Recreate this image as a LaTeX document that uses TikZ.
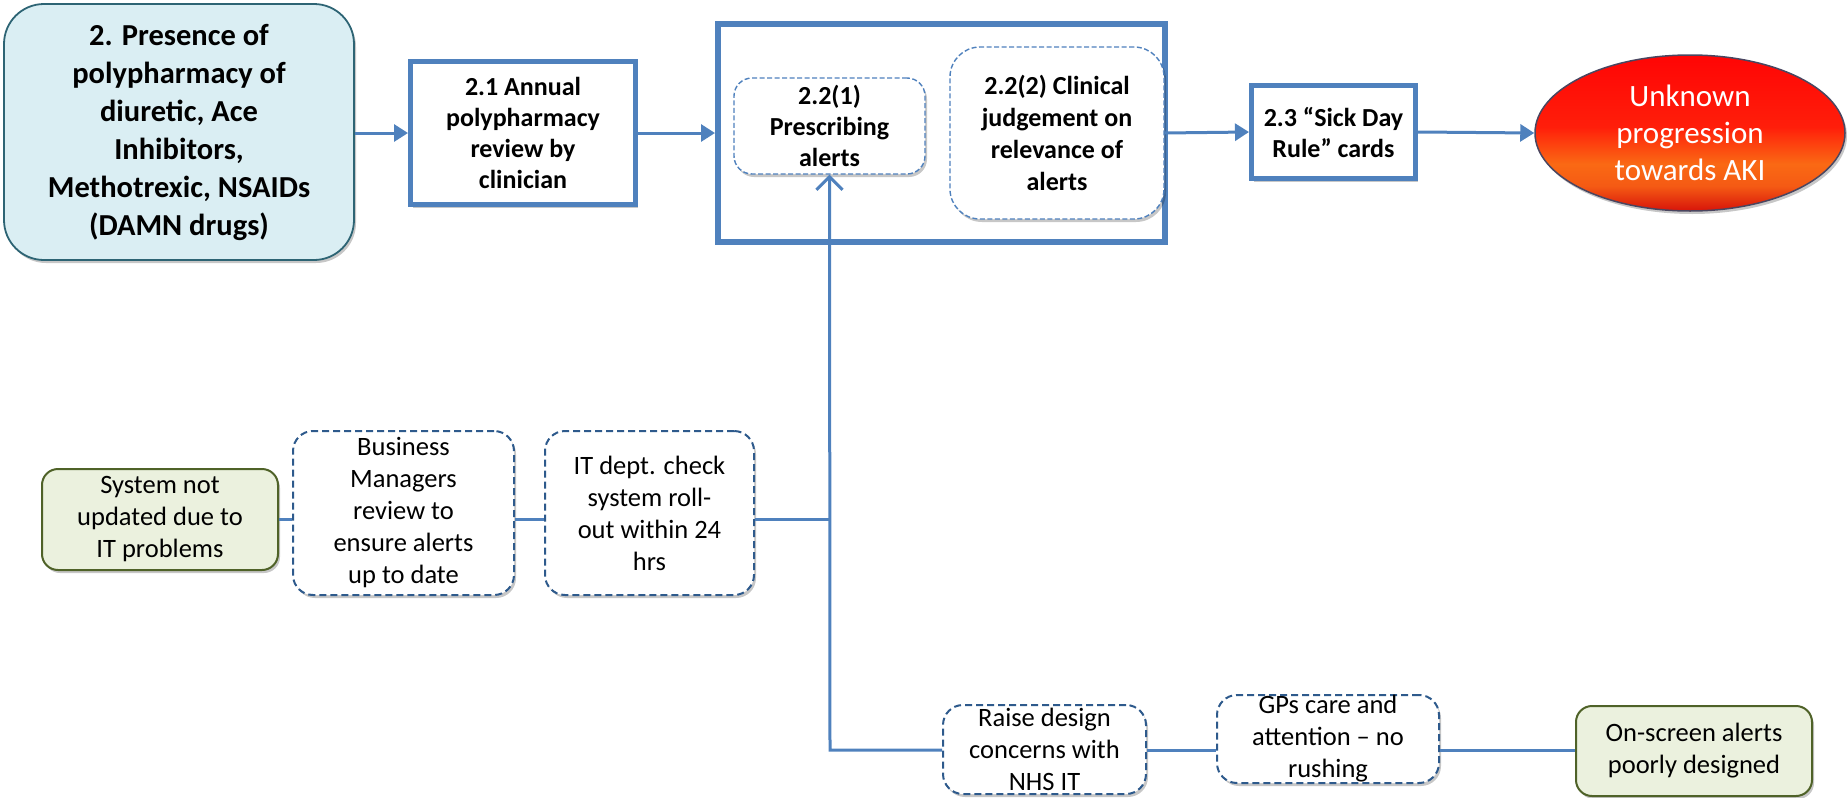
\documentclass[tikz,border=0pt]{standalone}
\usepackage{fontspec}
\setmainfont{Carlito}
\usetikzlibrary{arrows.meta,shadows,shapes.geometric}
\definecolor{accent}{HTML}{4F81BD}
\definecolor{navy}{HTML}{2E5A8C}
\definecolor{paleblue}{HTML}{DAEEF3}
\definecolor{tealedge}{HTML}{2D6474}
\definecolor{palegreen}{HTML}{EBF1DE}
\definecolor{olive}{HTML}{4F6228}
\definecolor{ovaledge}{HTML}{4A4660}
% red body with an orange band low down
\pgfdeclareverticalshading{akishade}{100bp}{%
  color(0bp)=(rgb,255:red,200;green,10;blue,10);
  color(25bp)=(rgb,255:red,215;green,20;blue,10);
  color(33bp)=(rgb,255:red,245;green,90;blue,20);
  color(40bp)=(rgb,255:red,250;green,105;blue,20);
  color(52bp)=(rgb,255:red,255;green,30;blue,10);
  color(75bp)=(rgb,255:red,255;green,5;blue,5);
  color(100bp)=(rgb,255:red,255;green,5;blue,5)}
\begin{document}
\begin{tikzpicture}[x=1pt,y=-1pt,
  softshadow/.style={drop shadow={shadow xshift=2pt,shadow yshift=-3pt,opacity=.22,fill=black}},
  boldtext/.style={font=\fontsize{26}{31}\selectfont\bfseries, align=center, text=black},
  plaintext/.style={font=\fontsize{26.5}{32}\selectfont, align=center, text=black},
  stepbox/.style={draw=accent, line width=5pt, fill=white, softshadow, boldtext, inner sep=0pt},
  innerdash/.style={draw=accent, line width=1.4pt, dash pattern=on 5pt off 2.5pt, fill=white, boldtext, inner sep=0pt, softshadow},
  lowdash/.style={draw=navy, line width=2pt, dash pattern=on 7pt off 4pt, fill=white, plaintext, rounded corners=20pt, inner sep=0pt, softshadow},
  greenbox/.style={draw=olive, line width=2pt, fill=palegreen, plaintext, rounded corners=16pt, inner sep=0pt, softshadow},
  flow/.style={draw=accent, line width=3pt, -{Triangle[length=14pt,width=17pt]}},
  link/.style={draw=accent, line width=3pt}
]
\useasboundingbox (0,0) rectangle (1848,798);

% main chain
\node[draw=tealedge, line width=1.8pt, fill=paleblue, rounded corners=40pt, softshadow,
      minimum width=350pt, minimum height=256pt, inner sep=0pt,
      font=\fontsize{30.5}{38}\selectfont\bfseries, align=center]
  (cause) at (179,132) {2. Presence of\\polypharmacy of\\diuretic, Ace\\Inhibitors,\\Methotrexic, NSAIDs\\(DAMN drugs)};

\node[stepbox, minimum width=225pt, minimum height=143pt] (review) at (523,133)
  {2.1 Annual\\polypharmacy\\review by\\clinician};

\node[draw=accent, line width=6pt, fill=white, softshadow,
      minimum width=447pt, minimum height=218pt, inner sep=0pt] (alertsgroup) at (941.5,133) {};

\node[innerdash, rounded corners=18pt, minimum width=191pt, minimum height=96pt] (prescribing) at (829.5,126)
  {2.2(1)\\Prescribing\\alerts};

\node[innerdash, rounded corners=30pt, minimum width=214pt, minimum height=172pt,
      font=\fontsize{26}{32}\selectfont\bfseries] (judgement) at (1057,133)
  {2.2(2) Clinical\\judgement on\\relevance of\\alerts};

\node[stepbox, minimum width=164pt, minimum height=93pt] (sickday) at (1333.5,132)
  {2.3 “Sick Day\\Rule” cards};

\node[ellipse, draw=ovaledge, line width=1.5pt, shading=akishade,
      minimum width=310pt, minimum height=156pt, inner sep=0pt, softshadow,
      font=\fontsize{31}{37}\selectfont, text=white, align=center] (outcome) at (1690,133)
  {Unknown\\progression\\towards AKI};

\draw[flow] (cause.east |- review.west) -- (review.west);
\draw[flow] (review.east) -- (alertsgroup.west);
\draw[flow] (judgement.east) -- (sickday.west);
\draw[flow] (sickday.east) -- (outcome.west);

% lower left branch
\node[greenbox, minimum width=236pt, minimum height=101pt] (sysnot) at (160,519.5)
  {System not\\updated due to\\IT problems};
\node[lowdash, minimum width=221pt, minimum height=164pt] (business) at (403.5,513)
  {Business\\Managers\\review to\\ensure alerts\\up to date};
\node[lowdash, minimum width=209pt, minimum height=164pt] (itdept) at (649.5,513)
  {IT dept. check\\system roll-\\out within 24\\hrs};

% lower right branch
\node[lowdash, minimum width=203pt, minimum height=89pt] (raise) at (1044.5,749.5)
  {Raise design\\concerns with\\NHS IT};
\node[lowdash, minimum width=222pt, minimum height=88pt] (gpscare) at (1328,739)
  {GPs care and\\attention – no\\rushing};
\node[greenbox, minimum width=236pt, minimum height=90pt] (onscreen) at (1694,751)
  {On-screen alerts\\poorly designed};

\coordinate (upper) at (830,519);
\coordinate (lower) at (830,750);

\draw[link] (sysnot.east |- upper) -- (business.west |- upper);
\draw[link] (business.east |- upper) -- (itdept.west |- upper);
\draw[link] (itdept.east |- upper) -- (upper);
\draw[link, -{Straight Barb[length=13pt,width=26pt,line width=3pt]}]
  (raise.west |- lower) -- (lower) -- (prescribing.south);
\draw[link] (raise.east |- lower) -- (gpscare.west |- lower);
\draw[link] (gpscare.east |- lower) -- (onscreen.west |- lower);
\end{tikzpicture}
\end{document}
